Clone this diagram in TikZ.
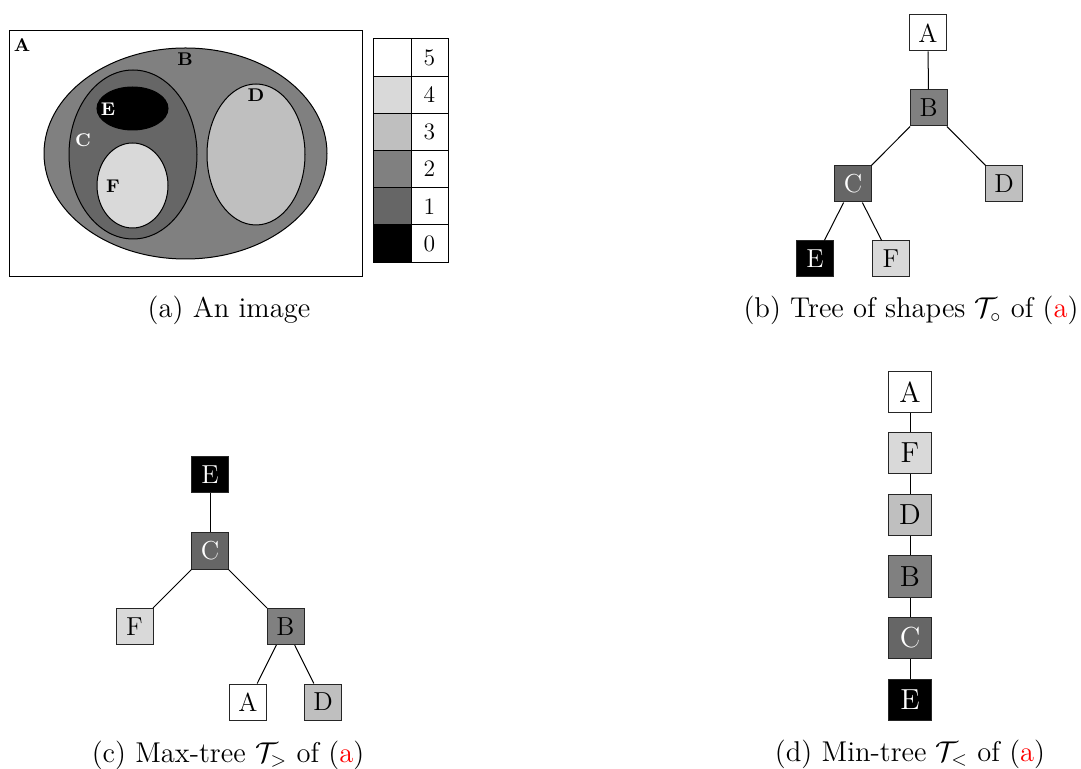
\RequirePackage{fix-cm}
\documentclass[tikz,border=0pt]{standalone}
\usepackage{fontspec}
\definecolor{lvfive}{HTML}{FFFFFF}
\definecolor{lvfour}{HTML}{D9D9D9}
\definecolor{lvthree}{HTML}{BFBFBF}
\definecolor{lvtwo}{HTML}{808080}
\definecolor{lvone}{HTML}{666666}
\definecolor{lvzero}{HTML}{000000}
\tikzset{
  region/.style={draw=black, line width=0.5pt},
  lbl/.style={font=\fontsize{9.2}{10}\selectfont\bfseries, inner sep=0pt},
  digit/.style={font=\fontsize{11.8}{13}\selectfont, inner sep=0pt},
  tnode/.style={draw=black!85, line width=0.5pt, minimum width=18.5pt, minimum height=18pt, inner sep=0pt, font=\fontsize{13}{15}\selectfont},
  bignode/.style={tnode, minimum width=21.5pt, minimum height=20.5pt, font=\fontsize{14.5}{17}\selectfont},
  capt/.style={anchor=base, inner sep=0pt, font=\fontsize{14.3}{16}\selectfont},
  link/.style={draw=black, line width=0.5pt}
}
\begin{document}
\begin{tikzpicture}[x=0.5pt,y=-0.5pt]
\useasboundingbox (0,0) rectangle (1081,769);
% ---------- (a) image ----------
\draw[region] (9.5,31) rectangle (362,277);
\draw[region, fill=lvtwo] (185.5,153.5) ellipse [x radius=70.75pt, y radius=52.75pt];
\draw[region, fill=lvone] (133,154.5) ellipse [x radius=32pt, y radius=42.25pt];
\draw[region, fill=lvzero] (132.5,108.5) ellipse [x radius=17.75pt, y radius=10.75pt];
\draw[region, fill=lvfour] (132.5,185.5) ellipse [x radius=17.75pt, y radius=21.25pt];
\draw[region, fill=lvthree] (256,154.5) ellipse [x radius=24.5pt, y radius=35.25pt];
\node[lbl] (la) at (22,45) {A};
\node[lbl] (lb) at (185,59) {B};
\node[lbl] (ld) at (256,95) {D};
\node[lbl, text=white] (le) at (108,109) {E};
\node[lbl, text=white] (lc) at (83,140) {C};
\node[lbl] (lf) at (113,186) {F};
% legend
\foreach \v/\c [count=\i from 0] in {5/lvfive,4/lvfour,3/lvthree,2/lvtwo,1/lvone,0/lvzero} {
  \pgfmathsetmacro\ya{39+\i*37.17}
  \pgfmathsetmacro\yb{39+(\i+1)*37.17}
  \fill[\c] (373,\ya) rectangle (411,\yb);
  \draw[line width=0.5pt] (373,\ya) rectangle (448,\yb);
  \draw[line width=0.5pt] (411,\ya) -- (411,\yb);
  \node[digit] (lg\v) at (429.5,{(\ya+\yb)/2}) {\v};
}
\node[capt] (capa) at (229,318) {(a) An image};
% ---------- (b) tree of shapes ----------
\node[tnode, fill=lvfive] (bA) at (928,33) {A};
\node[tnode, fill=lvtwo] (bB) at (928.5,108) {B};
\node[tnode, fill=lvone, text=white] (bC) at (853,184) {C};
\node[tnode, fill=lvthree] (bD) at (1004,184) {D};
\node[tnode, fill=lvzero, text=white] (bE) at (815,259) {E};
\node[tnode, fill=lvfour] (bF) at (891,259) {F};
\draw[link] (bA) -- (bB);
\draw[link] (bB) -- (bC);
\draw[link] (bB) -- (bD);
\draw[link] (bC) -- (bE);
\draw[link] (bC) -- (bF);
\node[capt] (capb) at (911,318) {(b) Tree of shapes $\mathcal{T}_\circ$ of (\textcolor{red}{a})};
% ---------- (c) max-tree ----------
\node[tnode, fill=lvzero, text=white] (cE) at (210,475) {E};
\node[tnode, fill=lvone, text=white] (cC) at (210,551) {C};
\node[tnode, fill=lvfour] (cF) at (134.5,626.5) {F};
\node[tnode, fill=lvtwo] (cB) at (285.5,626.5) {B};
\node[tnode, fill=lvfive] (cA) at (248,702) {A};
\node[tnode, fill=lvthree] (cD) at (323,702) {D};
\draw[link] (cE) -- (cC);
\draw[link] (cC) -- (cF);
\draw[link] (cC) -- (cB);
\draw[link] (cB) -- (cA);
\draw[link] (cB) -- (cD);
\node[capt] (capc) at (228,762) {(c) Max-tree $\mathcal{T}_>$ of (\textcolor{red}{a})};
% ---------- (d) min-tree ----------
\node[bignode, fill=lvfive] (dA) at (910,392.5) {A};
\node[bignode, fill=lvfour] (dF) at (910,453) {F};
\node[bignode, fill=lvthree] (dD) at (910,515) {D};
\node[bignode, fill=lvtwo] (dB) at (910,576.5) {B};
\node[bignode, fill=lvone, text=white] (dC) at (910,637.5) {C};
\node[bignode, fill=lvzero, text=white] (dE) at (910,699.5) {E};
\draw[link] (dA) -- (dF);
\draw[link] (dF) -- (dD);
\draw[link] (dD) -- (dB);
\draw[link] (dB) -- (dC);
\draw[link] (dC) -- (dE);
\node[capt] (capd) at (910,761) {(d) Min-tree $\mathcal{T}_<$ of (\textcolor{red}{a})};
\end{tikzpicture}
\end{document}
